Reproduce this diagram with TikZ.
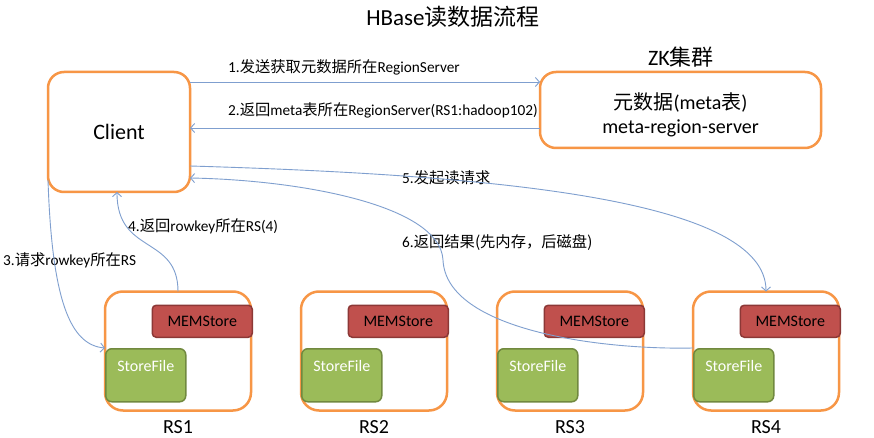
\documentclass[tikz,border=0pt]{standalone}
\usepackage{fontspec}
\setmainfont{Carlito}
\newfontfamily\cjk{Noto Sans CJK SC}
\usepackage{xcolor}
\usetikzlibrary{arrows.meta, positioning}

\definecolor{boxorange}{HTML}{F79646}
\definecolor{memred}{HTML}{C0504D}
\definecolor{memborder}{HTML}{8C3836}
\definecolor{sfgreen}{HTML}{9BBB59}
\definecolor{sfborder}{HTML}{71893F}
\definecolor{flowblue}{HTML}{7F9FCF}

\begin{document}
\begin{tikzpicture}[
x=1pt, y=-1pt,
block/.style={draw=boxorange, line width=2.5pt, rounded corners=16pt, fill=white, inner sep=0pt, outer sep=0pt},
server/.style={block, minimum width=146pt, minimum height=119pt, rounded corners=18pt},
memstore/.style={draw=memborder, fill=memred, line width=1.5pt, rounded corners=4pt, minimum width=100pt, minimum height=32pt, inner sep=0pt, font=\fontsize{16}{19}\selectfont},
storefile/.style={draw=sfborder, fill=sfgreen, line width=1.5pt, rounded corners=6pt, minimum width=80pt, minimum height=53pt, inner sep=0pt, text=white, text height=10pt, text depth=17pt, font=\fontsize{16}{19}\selectfont},
rsname/.style={inner sep=0pt, font=\fontsize{20}{24}\selectfont},
lbl/.style={anchor=west, inner sep=0pt, font=\fontsize{15.3}{18}\selectfont},
arrow/.style={-{Straight Barb[length=4pt,width=9pt]}, draw=flowblue, line width=0.9pt}
]
\fill[white] (0,0) rectangle (874,438);
\useasboundingbox (0,0) rectangle (874,438);

\node[font=\fontsize{23}{27}\selectfont] (title) at (453,17) {HBase{\cjk 读数据流程}};

\node[block, minimum width=142pt, minimum height=120pt, font=\fontsize{22}{26}\selectfont] (client) at (119,132) {Client};
\node[block, minimum width=281pt, minimum height=76pt] (zk) at (680.5,110) {};
\node[font=\fontsize{20}{24}\selectfont, align=center] (zktext) at ([yshift=-5pt]zk.center) {{\cjk 元数据}(meta{\cjk 表})\\meta-region-server};
\node[font=\fontsize{22}{26}\selectfont] (zkname) at (681,57) {ZK{\cjk 集群}};

% region servers
\node[server] (rs1) at (178,351) {};
\node[server, right=50pt of rs1] (rs2) {};
\node[server, right=50pt of rs2] (rs3) {};
\node[server, right=50pt of rs3] (rs4) {};

\node[memstore, anchor=north east] (mem1) at ([xshift=2pt,yshift=-13pt]rs1.north east) {MEMStore};
\node[memstore, anchor=north east] (mem2) at ([xshift=2pt,yshift=-13pt]rs2.north east) {MEMStore};
\node[memstore, anchor=north east] (mem3) at ([xshift=2pt,yshift=-13pt]rs3.north east) {MEMStore};
\node[memstore, anchor=north east] (mem4) at ([xshift=2pt,yshift=-13pt]rs4.north east) {MEMStore};

\node[storefile, anchor=south west] (sf1) at ([yshift=8pt]rs1.south west) {StoreFile};
\node[storefile, anchor=south west] (sf2) at ([yshift=8pt]rs2.south west) {StoreFile};
\node[storefile, anchor=south west] (sf3) at ([yshift=8pt]rs3.south west) {StoreFile};
\node[storefile, anchor=south west] (sf4) at ([yshift=8pt]rs4.south west) {StoreFile};

\node[rsname, below=10pt of rs1] (name1) {RS1};
\node[rsname, below=10pt of rs2] (name2) {RS2};
\node[rsname, below=10pt of rs3] (name3) {RS3};
\node[rsname, below=10pt of rs4] (name4) {RS4};

% step labels
\node[lbl] (lab1) at (228,67) {1.{\cjk 发送获取元数据所在}RegionServer};
\node[lbl] (lab2) at (228,110) {2.{\cjk 返回}meta{\cjk 表所在}RegionServer(RS1:hadoop102)};
\node[lbl] (lab3) at (3,260) {3.{\cjk 请求}rowkey{\cjk 所在}RS};
\node[lbl] (lab4) at (128,226) {4.{\cjk 返回}rowkey{\cjk 所在}RS(4)};
\node[lbl] (lab5) at (402,178) {5.{\cjk 发起读请求}};
\node[lbl] (lab6) at (402,242) {6.{\cjk 返回结果(先内存，后磁盘)}};

\draw[arrow] ([yshift=-10pt]client.north east) -- ([yshift=-10pt]zk.north west);
\draw[arrow] ([yshift=-56pt]zk.north west) -- ([yshift=-56pt]client.north east);
\draw[arrow] ([yshift=12pt]client.south west) .. controls (52,300) and (70,345) .. (sf1.north west);
\draw[arrow] (rs1.north) .. controls (178,235) and (117,255) .. ([xshift=-2pt]client.south);
\draw[arrow] ([yshift=26pt]client.south east) .. controls (500,175) and (766,200) .. (rs4.north);
\draw[arrow] (sf4.north west) .. controls (600,350) and (446,330) .. (443,260) .. controls (440,205) and (300,180) .. ([yshift=14pt]client.south east);
\end{tikzpicture}
\end{document}
